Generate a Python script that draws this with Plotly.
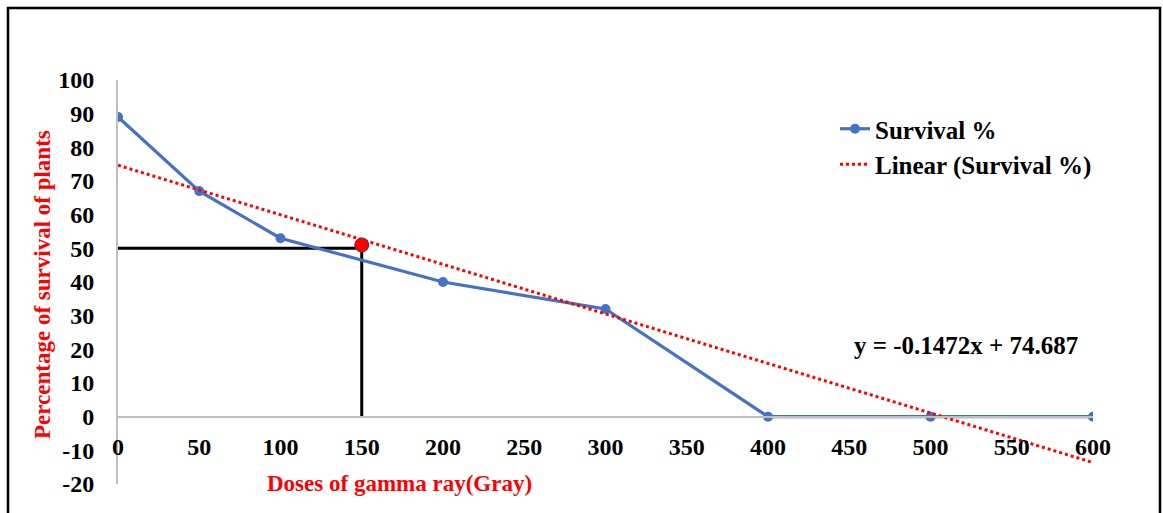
import plotly.graph_objects as go

# Data
doses = [0, 50, 100, 200, 300, 400, 500, 600]
survival = [89, 67, 53, 40, 32, 0, 0, 0]
slope = -0.1472
intercept = 74.687
trend_x = [0, 600]
trend_y = [intercept + slope * v for v in trend_x]
guide_x = [0, 150, 150]
guide_y = [50, 50, 0]
ld50_x = [150]
ld50_y = [51]
x_ticks = [0, 50, 100, 150, 200, 250, 300, 350, 400, 450, 500, 550, 600]
y_ticks = [-20, -10, 0, 10, 20, 30, 40, 50, 60, 70, 80, 90, 100]

FONT = "Liberation Serif"
W, H = 1163, 513
L, R, T, B = 118, 70, 80, 29
PW, PH = W - L - R, H - T - B


def px(xp):
    return (xp - L) / PW


def py(yp):
    return (H - B - yp) / PH


fig = go.Figure()
fig.add_trace(go.Scatter(x=guide_x, y=guide_y, mode="lines",
                         line=dict(color="black", width=3), showlegend=False,
                         hoverinfo="skip"))
fig.add_trace(go.Scatter(x=doses, y=survival, mode="lines+markers",
                         name="<b>Survival %</b>",
                         line=dict(color="#4472C4", width=3.2),
                         marker=dict(color="#4472C4", size=10)))
fig.add_trace(go.Scatter(x=trend_x, y=trend_y, mode="lines",
                         name="<b>Linear (Survival %)</b>",
                         line=dict(color="red", width=3, dash="dot")))
fig.add_trace(go.Scatter(x=ld50_x, y=ld50_y, mode="markers", showlegend=False,
                         marker=dict(color="red", size=14,
                                     line=dict(color="#7a1f1f", width=1))))

fig.update_layout(
    width=W, height=H,
    margin=dict(l=L, r=R, t=T, b=B),
    paper_bgcolor="white", plot_bgcolor="white",
    font=dict(family=FONT, size=24, color="black"),
    xaxis=dict(range=[0, 600], tickvals=x_ticks,
               ticktext=[f"<b>{v}</b>" for v in x_ticks],
               showgrid=False, zeroline=False,
               showline=True, linecolor="#bfbfbf", linewidth=2,
               anchor="free", position=20 / 120,
               ticks="", ticklabelstandoff=9,
               tickfont=dict(family=FONT, size=24, color="black")),
    yaxis=dict(range=[-20, 100], tickvals=y_ticks,
               ticktext=[f"<b>{v}</b>" for v in y_ticks],
               showgrid=False, zeroline=False,
               showline=True, linecolor="#bfbfbf", linewidth=2,
               ticks="", ticklabelstandoff=17,
               tickfont=dict(family=FONT, size=24, color="black")),
    legend=dict(x=px(835), y=py(106), xanchor="left", yanchor="top",
                bgcolor="rgba(0,0,0,0)", font=dict(family=FONT, size=25, color="black"),
                tracegroupgap=0),
    showlegend=True,
)

fig.add_annotation(text="<b>Doses of gamma ray(Gray)</b>", xref="paper", yref="paper",
                   x=px(399), y=py(483), xanchor="center", yanchor="middle",
                   showarrow=False,
                   font=dict(family=FONT, size=23, color="red"))
fig.add_annotation(text="<b>Percentage of survival of plants</b>", xref="paper", yref="paper",
                   x=px(42), y=py(285), xanchor="center", yanchor="middle",
                   showarrow=False, textangle=-90,
                   font=dict(family=FONT, size=23, color="red"))
fig.add_annotation(text="<b>y = -0.1472x + 74.687</b>", xref="paper", yref="paper",
                   x=px(966), y=py(345), xanchor="center", yanchor="middle",
                   showarrow=False,
                   font=dict(family=FONT, size=25, color="black"))

fig.add_shape(type="rect", xref="paper", yref="paper",
              x0=px(8), x1=px(1160), y0=py(530), y1=py(8),
              line=dict(color="black", width=2.5), layer="below")

fig.write_html("out.html",
               config={"displayModeBar": False},
               post_script="document.body.style.margin='0';"
                           "document.body.style.overflow='hidden';")
